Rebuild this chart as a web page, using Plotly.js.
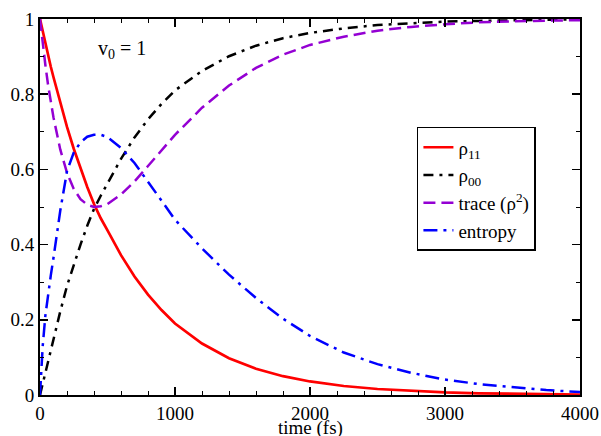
<!DOCTYPE html>
<html>
<head>
<meta charset="utf-8">
<script src="https://cdn.plot.ly/plotly-3.0.1.min.js"></script>
<style>html,body{margin:0;padding:0;background:#fff;}#chart{width:601px;height:436px;}</style>
</head>
<body>
<div id="chart"></div>
<script>
const timeFs = [0,20,40,60,80,100,150,200,250,300,350,400,450,500,600,700,800,900,1000,1200,1400,1600,1800,2000,2250,2500,2750,3000,3250,3500,3750,4000];
const rho11 = [1.000,0.966,0.934,0.902,0.873,0.845,0.776,0.713,0.655,0.602,0.553,0.508,0.470,0.438,0.372,0.315,0.267,0.226,0.190,0.137,0.098,0.070,0.050,0.036,0.024,0.016,0.0105,0.007,0.0045,0.003,0.002,0.0013];
const rho00 = [0.000,0.030,0.062,0.093,0.124,0.153,0.222,0.290,0.347,0.400,0.450,0.495,0.530,0.562,0.628,0.685,0.733,0.774,0.810,0.862,0.901,0.929,0.949,0.963,0.975,0.984,0.989,0.993,0.995,0.997,0.998,0.999];
const traceRho2 = [1.000,0.934,0.877,0.824,0.778,0.738,0.653,0.591,0.548,0.521,0.506,0.500,0.502,0.508,0.533,0.568,0.609,0.650,0.692,0.764,0.823,0.870,0.905,0.931,0.953,0.969,0.979,0.986,0.991,0.994,0.996,0.997];
const entropy = [0.000,0.130,0.212,0.270,0.318,0.365,0.490,0.595,0.645,0.672,0.687,0.692,0.692,0.686,0.657,0.617,0.568,0.517,0.466,0.390,0.320,0.258,0.203,0.157,0.113,0.082,0.059,0.041,0.029,0.020,0.013,0.008];
const seriesNames = ['ρ<sub>11</sub>','ρ<sub>00</sub>','trace (ρ<sup>2</sup>)','entropy'];
const xTickVals = [0,1000,2000,3000,4000];
const yTickVals = [0,0.2,0.4,0.6,0.8,1];
const yTickText = ['0','0.2','0.4','0.6','0.8','1'];
const xAxisTitle = 'time (fs)';
const panelLabel = 'v<sub>0</sub> = 1';

const serif = 'Liberation Serif';
const traces = [
  {x: timeFs, y: rho11, name: seriesNames[0], mode: 'lines', line: {color: '#ff0000', width: 2.7}},
  {x: timeFs, y: rho00, name: seriesNames[1], mode: 'lines', line: {color: '#000000', width: 2.5, dash: '10px,6px,3px,6px'}},
  {x: timeFs, y: traceRho2, name: seriesNames[2], mode: 'lines', line: {color: '#9400d3', width: 2.5, dash: '12px,6px'}},
  {x: timeFs, y: entropy, name: seriesNames[3], mode: 'lines', line: {color: '#0000ff', width: 2.5, dash: '14px,6px,3px,6px'}}
];
const axisCommon = {
  showline: true, mirror: 'ticks', linecolor: '#000', linewidth: 2,
  ticks: 'inside', ticklen: 8, tickwidth: 1.5, tickcolor: '#000',
  showgrid: false, zeroline: false,
  tickfont: {family: serif, size: 19, color: '#000'}
};
const layout = {
  width: 601, height: 436,
  margin: {l: 40, r: 21, t: 19, b: 41},
  paper_bgcolor: '#fff', plot_bgcolor: '#fff',
  font: {family: serif, color: '#000'},
  showlegend: true,
  xaxis: Object.assign({}, axisCommon, {
    range: [0, 4000], tickvals: xTickVals,
    minor: {dtick: 200, ticks: 'inside', ticklen: 4, tickwidth: 1, tickcolor: '#000'}
  }),
  yaxis: Object.assign({}, axisCommon, {
    range: [0, 1], tickvals: yTickVals, ticktext: yTickText,
    minor: {dtick: 0.1, ticks: 'inside', ticklen: 4, tickwidth: 1, tickcolor: '#000'}
  }),
  legend: {
    x: 0.698, y: 0.713, xanchor: 'left', yanchor: 'top',
    bgcolor: '#fff', bordercolor: '#000', borderwidth: 1.5,
    font: {family: serif, size: 19, color: '#000'},
    itemwidth: 30, tracegroupgap: 0
  },
  annotations: [
    {text: panelLabel, x: 0.152, y: 0.92, xref: 'paper', yref: 'paper', xanchor: 'center', yanchor: 'middle',
     showarrow: false, font: {family: serif, size: 20, color: '#000'}},
    {text: xAxisTitle, x: 0.5, y: -0.087, xref: 'paper', yref: 'paper', xanchor: 'center', yanchor: 'middle',
     showarrow: false, font: {family: serif, size: 19, color: '#000'}}
  ]
};
Plotly.newPlot('chart', traces, layout, {displayModeBar: false, staticPlot: true});
</script>
</body>
</html>
